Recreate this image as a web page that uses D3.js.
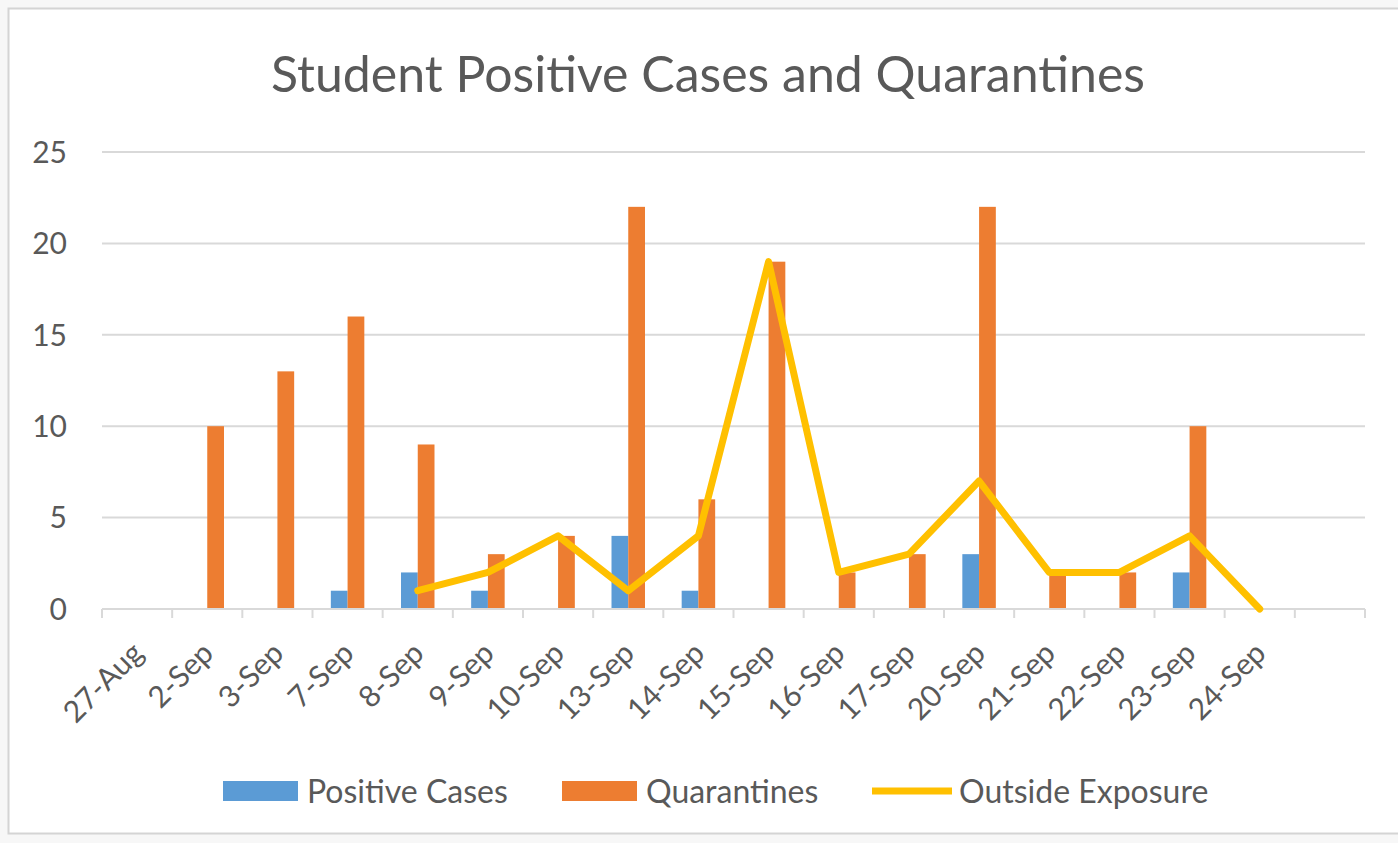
<!DOCTYPE html>
<html>
<head>
<meta charset="utf-8">
<script src="https://cdn.jsdelivr.net/npm/d3@7"></script>
<style>
  body { margin: 0; background: #f7f7f7; }
  svg { display: block; font-family: Lato, "Open Sans", sans-serif; }
</style>
</head>
<body>
<div id="chart"></div>
<script>
// category labels (last slot is an empty category, as in the sheet)
const categories = ["27-Aug", "2-Sep", "3-Sep", "7-Sep", "8-Sep", "9-Sep", "10-Sep", "13-Sep", "14-Sep",
  "15-Sep", "16-Sep", "17-Sep", "20-Sep", "21-Sep", "22-Sep", "23-Sep", "24-Sep", " "];
const positiveCases = [0, 0, 0, 1, 2, 1, 0, 4, 1, 0, 0, 0, 3, 0, 0, 2, 0, null];
const quarantines = [0, 10, 13, 16, 9, 3, 4, 22, 6, 19, 2, 3, 22, 2, 2, 10, 0, null];
const outsideExposure = [null, null, null, null, 1, 2, 4, 1, 4, 19, 2, 3, 7, 2, 2, 4, 0, null];
const yTicks = [0, 5, 10, 15, 20, 25];
const seriesNames = ["Positive Cases", "Quarantines", "Outside Exposure"];

let width = 1398, height = 843;
let margin = { top: 152, bottom: 234, left: 102, right: 33 };

let col = { blue: "#5b9bd5", orange: "#ed7d31", gold: "#ffc000", text: "#595959", grid: "#d9d9d9" };

let svg = d3.select("#chart").append("svg")
  .attr("width", width)
  .attr("height", height);

// chart area frame
svg.append("rect")
  .attr("x", 8.5).attr("y", 8.5)
  .attr("width", width + 10).attr("height", 825)
  .attr("fill", "#fff")
  .attr("stroke", "#d4d4d4")
  .attr("stroke-width", 2);

let xScale = d3.scaleBand()
  .domain(categories)
  .range([margin.left, width - margin.right]);

let yScale = d3.scaleLinear()
  .domain([0, 25])
  .range([height - margin.bottom, margin.top]);

let bw = xScale.bandwidth();
let barW = bw / (2 + 2.19); // excel gap width 219%

// title
svg.append("text")
  .attr("x", 708).attr("y", 92)
  .attr("text-anchor", "middle")
  .attr("fill", col.text)
  .style("font-size", "50px")
  .text("Student Positive Cases and Quarantines");

// gridlines
svg.append("g")
  .selectAll("line")
  .data(yTicks.filter(d => d > 0))
  .enter().append("line")
    .attr("x1", xScale.range()[0])
    .attr("x2", xScale.range()[1])
    .attr("y1", d => yScale(d))
    .attr("y2", d => yScale(d))
    .attr("stroke", col.grid)
    .attr("stroke-width", 2);

// y labels
svg.append("g")
  .selectAll("text")
  .data(yTicks)
  .enter().append("text")
    .attr("x", 67)
    .attr("y", d => yScale(d))
    .attr("dy", "0.36em")
    .attr("text-anchor", "end")
    .attr("fill", col.text)
    .style("font-size", "30px")
    .text(d => d);

// bars
let bars = svg.append("g");
bars.selectAll(".pos")
  .data(categories.map((c, i) => ({ c: c, v: positiveCases[i] })).filter(d => d.v))
  .enter().append("rect")
    .attr("class", "pos")
    .attr("x", d => xScale(d.c) + bw / 2 - barW)
    .attr("y", d => yScale(d.v))
    .attr("width", barW)
    .attr("height", d => yScale(0) - yScale(d.v))
    .style("fill", col.blue);

bars.selectAll(".quar")
  .data(categories.map((c, i) => ({ c: c, v: quarantines[i] })).filter(d => d.v))
  .enter().append("rect")
    .attr("class", "quar")
    .attr("x", d => xScale(d.c) + bw / 2)
    .attr("y", d => yScale(d.v))
    .attr("width", barW)
    .attr("height", d => yScale(0) - yScale(d.v))
    .style("fill", col.orange);

// x axis line + ticks at category boundaries
let axisG = svg.append("g");
axisG.append("line")
  .attr("x1", xScale.range()[0]).attr("x2", xScale.range()[1])
  .attr("y1", yScale(0)).attr("y2", yScale(0))
  .attr("stroke", col.grid).attr("stroke-width", 2);

let bounds = categories.map(c => xScale(c)).concat([xScale.range()[1]]);
axisG.selectAll(".tick")
  .data(bounds)
  .enter().append("line")
    .attr("class", "tick")
    .attr("x1", d => d).attr("x2", d => d)
    .attr("y1", yScale(0)).attr("y2", yScale(0) + 9)
    .attr("stroke", col.grid).attr("stroke-width", 2);

axisG.selectAll(".xlab")
  .data(categories)
  .enter().append("text")
    .attr("class", "xlab")
    .attr("text-anchor", "end")
    .attr("transform", d => `translate(${xScale(d) + bw / 2 + 8},${yScale(0) + 46}) rotate(-45)`)
    .attr("fill", col.text)
    .style("font-size", "30px")
    .text(d => d);

// outside exposure line
let line = d3.line()
  .defined(d => d.v !== null)
  .x(d => xScale(d.c) + bw / 2)
  .y(d => yScale(d.v));

svg.append("path")
  .datum(categories.map((c, i) => ({ c: c, v: outsideExposure[i] })))
  .attr("d", line)
  .attr("fill", "none")
  .attr("stroke", col.gold)
  .attr("stroke-width", 7)
  .attr("stroke-linejoin", "round")
  .attr("stroke-linecap", "round");

// legend
let legend = svg.append("g");
let legY = 791;
let legItems = [
  { name: seriesNames[0], x: 223, type: "rect", color: col.blue },
  { name: seriesNames[1], x: 562, type: "rect", color: col.orange },
  { name: seriesNames[2], x: 872, type: "line", color: col.gold }
];
legItems.forEach(d => {
  if (d.type == "rect") {
    legend.append("rect")
      .attr("x", d.x).attr("y", legY - 10)
      .attr("width", 75).attr("height", 20)
      .style("fill", d.color);
  } else {
    legend.append("line")
      .attr("x1", d.x).attr("x2", d.x + 80)
      .attr("y1", legY).attr("y2", legY)
      .attr("stroke", d.color).attr("stroke-width", 7);
  }
  legend.append("text")
    .attr("x", d.x + (d.type == "rect" ? 84 : 87))
    .attr("y", legY)
    .attr("dy", "0.36em")
    .attr("fill", col.text)
    .style("font-size", "32px")
    .text(d.name);
});
</script>
</body>
</html>
